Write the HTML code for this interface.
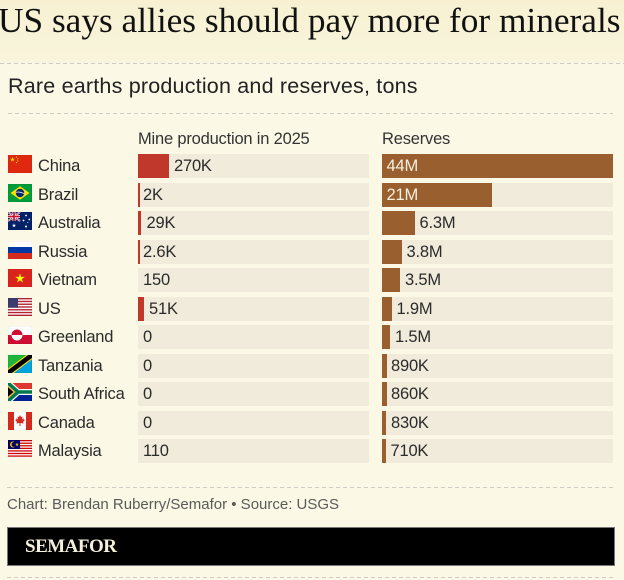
<!DOCTYPE html>
<html>
<head>
<meta charset="utf-8">
<style>
  html, body { margin:0; padding:0; }
  body { width:624px; height:580px; position:relative; overflow:hidden; background:#fbf9e6; font-family:"Liberation Sans", Arial, sans-serif; }
  .abs { position:absolute; white-space:nowrap; }
  .titlebg { position:absolute; left:0; top:0; width:624px; height:63px; background:linear-gradient(#f7f1d2,#f9f5dc); }
  .title { left:-2px; top:1px; font-family:"Liberation Serif", "Times New Roman", serif; font-size:35.3px; line-height:40px; color:#111; }
  .sub { left:8px; top:74px; font-size:21.5px; line-height:24px; color:#222; letter-spacing:0.2px; }
  .hdr { top:129px; font-size:16.5px; line-height:20px; color:#333; letter-spacing:-0.2px; }
  .row { position:absolute; left:0; width:624px; height:24px; }
  .flag { position:absolute; left:8px; top:1px; width:24px; height:18px; }
  .name { position:absolute; left:38px; top:0; font-size:16.5px; line-height:24px; color:#2b2b2b; letter-spacing:-0.2px; white-space:nowrap; }
  .bg1 { position:absolute; left:138px; top:0; width:231px; height:24px; background:#f0ebdb; }
  .bg2 { position:absolute; left:382px; top:0; width:231px; height:24px; background:#f0ebdb; }
  .pb { position:absolute; left:138px; top:0; height:24px; background:#c0382b; }
  .rb { position:absolute; left:382px; top:0; height:24px; background:#9a5f2f; }
  .val { position:absolute; top:0; font-size:16.5px; line-height:24px; color:#2b2b2b; letter-spacing:-0.2px; white-space:nowrap; }
  .in { color:#f6efdf; }
  .credit { left:7px; top:496px; font-size:15px; line-height:18px; color:#5a5a58; }
  .box { position:absolute; left:7px; top:527px; width:606px; height:37px; background:#000; border:1px solid #777; }
  .logo { left:25px; top:536px; font-family:"Liberation Serif", "Times New Roman", serif; font-weight:bold; font-size:19px; line-height:22px; color:#f5f0dc; letter-spacing:-0.5px; }
  svg.lines { position:absolute; left:0; top:0; }
</style>
</head>
<body>
<div class="titlebg"></div>
<div class="abs title">US says allies should pay more for minerals</div>

<svg class="lines" width="624" height="580">
  <g stroke="#cdcdc4" stroke-width="1" stroke-dasharray="4 3">
    <line x1="0" y1="63.5" x2="624" y2="63.5"/>
    <line x1="8" y1="113.5" x2="613" y2="113.5"/>
    <line x1="7" y1="487.5" x2="614" y2="487.5"/>
    <line x1="7" y1="577.5" x2="614" y2="577.5"/>
  </g>
</svg>

<div class="abs sub">Rare earths production and reserves, tons</div>
<div class="abs hdr" style="left:138px;">Mine production in 2025</div>
<div class="abs hdr" style="left:382px;">Reserves</div>

<!-- China -->
<div class="row" style="top:154px;">
  <svg class="flag" viewBox="0 0 24 18"><rect width="24" height="18" fill="#de2910"/>
    <polygon fill="#ffde00" transform="translate(4.5,4.5) scale(2.6)" points="0,-1 0.2245,-0.309 0.951,-0.309 0.363,0.118 0.588,0.809 0,0.382 -0.588,0.809 -0.363,0.118 -0.951,-0.309 -0.2245,-0.309"/>
    <circle cx="8.5" cy="2" r="0.6" fill="#ffde00"/><circle cx="9.8" cy="3.8" r="0.6" fill="#ffde00"/><circle cx="9.8" cy="6" r="0.6" fill="#ffde00"/><circle cx="8.5" cy="7.6" r="0.6" fill="#ffde00"/>
    <rect width="24" height="18" fill="none" stroke="rgba(0,0,0,0.12)" stroke-width="0.6"/></svg>
  <div class="name">China</div>
  <div class="bg1"></div><div class="pb" style="width:31px;"></div><div class="val" style="left:174px;">270K</div>
  <div class="bg2"></div><div class="rb" style="width:231px;"></div><div class="val in" style="left:386.5px;">44M</div>
</div>

<!-- Brazil -->
<div class="row" style="top:183px;">
  <svg class="flag" viewBox="0 0 24 18"><rect width="24" height="18" fill="#009c3b"/>
    <polygon points="2.5,9 12,2.3 21.5,9 12,15.7" fill="#ffdf00"/>
    <circle cx="12" cy="9" r="4.2" fill="#002776"/>
    <path d="M8,8.3 Q12,7.3 16,9.6" stroke="#fff" stroke-width="0.7" fill="none"/>
    <rect width="24" height="18" fill="none" stroke="rgba(0,0,0,0.12)" stroke-width="0.6"/></svg>
  <div class="name">Brazil</div>
  <div class="bg1"></div><div class="pb" style="width:1.6px;"></div><div class="val" style="left:143px;">2K</div>
  <div class="bg2"></div><div class="rb" style="width:110px;"></div><div class="val in" style="left:386.5px;">21M</div>
</div>

<!-- Australia -->
<div class="row" style="top:211px;">
  <svg class="flag" viewBox="0 0 24 18"><rect width="24" height="18" fill="#012169"/>
    <g>
      <path d="M0,0 L12,9 M12,0 L0,9" stroke="#fff" stroke-width="1.8"/>
      <path d="M0,0 L12,9 M12,0 L0,9" stroke="#c8102e" stroke-width="0.6"/>
      <path d="M6,0 V9 M0,4.5 H12" stroke="#fff" stroke-width="3"/>
      <path d="M6,0 V9 M0,4.5 H12" stroke="#c8102e" stroke-width="1.7"/>
    </g>
    <polygon fill="#fff" transform="translate(6,13.5) scale(2.2)" points="0,-1 0.2245,-0.309 0.951,-0.309 0.363,0.118 0.588,0.809 0,0.382 -0.588,0.809 -0.363,0.118 -0.951,-0.309 -0.2245,-0.309"/>
    <circle cx="18" cy="3.5" r="0.9" fill="#fff"/><circle cx="21.3" cy="7.5" r="0.9" fill="#fff"/><circle cx="15.5" cy="8.5" r="0.9" fill="#fff"/><circle cx="18" cy="14.5" r="1" fill="#fff"/><circle cx="19.8" cy="10.5" r="0.5" fill="#fff"/>
    <rect width="24" height="18" fill="none" stroke="rgba(0,0,0,0.12)" stroke-width="0.6"/></svg>
  <div class="name">Australia</div>
  <div class="bg1"></div><div class="pb" style="width:3.3px;"></div><div class="val" style="left:146.5px;">29K</div>
  <div class="bg2"></div><div class="rb" style="width:33px;"></div><div class="val" style="left:419.5px;">6.3M</div>
</div>

<!-- Russia -->
<div class="row" style="top:240px;">
  <svg class="flag" viewBox="0 0 24 18"><rect width="24" height="6" fill="#fff"/><rect y="6" width="24" height="6" fill="#0039a6"/><rect y="12" width="24" height="6" fill="#d52b1e"/>
    <rect width="24" height="18" fill="none" stroke="rgba(0,0,0,0.12)" stroke-width="0.6"/></svg>
  <div class="name">Russia</div>
  <div class="bg1"></div><div class="pb" style="width:1.6px;"></div><div class="val" style="left:143px;">2.6K</div>
  <div class="bg2"></div><div class="rb" style="width:20px;"></div><div class="val" style="left:406.5px;">3.8M</div>
</div>

<!-- Vietnam -->
<div class="row" style="top:268px;">
  <svg class="flag" viewBox="0 0 24 18"><rect width="24" height="18" fill="#da251d"/>
    <polygon fill="#ffff00" transform="translate(12,9.4) scale(5)" points="0,-1 0.2245,-0.309 0.951,-0.309 0.363,0.118 0.588,0.809 0,0.382 -0.588,0.809 -0.363,0.118 -0.951,-0.309 -0.2245,-0.309"/>
    <rect width="24" height="18" fill="none" stroke="rgba(0,0,0,0.12)" stroke-width="0.6"/></svg>
  <div class="name">Vietnam</div>
  <div class="bg1"></div><div class="val" style="left:143px;">150</div>
  <div class="bg2"></div><div class="rb" style="width:18.4px;"></div><div class="val" style="left:405px;">3.5M</div>
</div>

<!-- US -->
<div class="row" style="top:297px;">
  <svg class="flag" viewBox="0 0 24 18"><rect width="24" height="18" fill="#fff"/>
    <g fill="#b22234">
      <rect y="0" width="24" height="1.385"/><rect y="2.77" width="24" height="1.385"/><rect y="5.54" width="24" height="1.385"/><rect y="8.31" width="24" height="1.385"/><rect y="11.08" width="24" height="1.385"/><rect y="13.85" width="24" height="1.385"/><rect y="16.62" width="24" height="1.385"/>
    </g>
    <rect width="10" height="9.7" fill="#3c3b6e"/>
    <rect width="24" height="18" fill="none" stroke="rgba(0,0,0,0.12)" stroke-width="0.6"/></svg>
  <div class="name">US</div>
  <div class="bg1"></div><div class="pb" style="width:6px;"></div><div class="val" style="left:149px;">51K</div>
  <div class="bg2"></div><div class="rb" style="width:10px;"></div><div class="val" style="left:396.5px;">1.9M</div>
</div>

<!-- Greenland -->
<div class="row" style="top:325px;">
  <svg class="flag" viewBox="0 0 24 18"><rect width="24" height="9" fill="#fff"/><rect y="9" width="24" height="9" fill="#d00c33"/>
    <path d="M3.5,9 A5.5,5.5 0 0 1 14.5,9 Z" fill="#d00c33"/>
    <path d="M3.5,9 A5.5,5.5 0 0 0 14.5,9 Z" fill="#fff"/>
    <rect width="24" height="18" fill="none" stroke="rgba(0,0,0,0.12)" stroke-width="0.6"/></svg>
  <div class="name">Greenland</div>
  <div class="bg1"></div><div class="val" style="left:143px;">0</div>
  <div class="bg2"></div><div class="rb" style="width:7.9px;"></div><div class="val" style="left:395px;">1.5M</div>
</div>

<!-- Tanzania -->
<div class="row" style="top:354px;">
  <svg class="flag" viewBox="0 0 24 18"><rect width="24" height="18" fill="#1eb53a"/>
    <polygon points="24,0 24,18 0,18" fill="#00a3dd"/>
    <line x1="0" y1="18" x2="24" y2="0" stroke="#fcd116" stroke-width="7"/>
    <line x1="0" y1="18" x2="24" y2="0" stroke="#000" stroke-width="4.6"/>
    <rect width="24" height="18" fill="none" stroke="rgba(0,0,0,0.12)" stroke-width="0.6"/></svg>
  <div class="name">Tanzania</div>
  <div class="bg1"></div><div class="val" style="left:143px;">0</div>
  <div class="bg2"></div><div class="rb" style="width:4.7px;"></div><div class="val" style="left:391px;">890K</div>
</div>

<!-- South Africa -->
<div class="row" style="top:382px;">
  <svg class="flag" viewBox="0 0 24 18"><rect width="24" height="9" fill="#de3831"/><rect y="9" width="24" height="9" fill="#002395"/>
    <path d="M0,0 L10,9 L24,9 M0,18 L10,9" stroke="#fff" stroke-width="6" fill="none"/>
    <path d="M0,0 L10,9 L24,9 M0,18 L10,9" stroke="#007a4d" stroke-width="3.6" fill="none"/>
    <polygon points="0,2.8 7.2,9 0,15.2" fill="#ffb612"/>
    <polygon points="0,4.3 5.4,9 0,13.7" fill="#000"/>
    <rect width="24" height="18" fill="none" stroke="rgba(0,0,0,0.12)" stroke-width="0.6"/></svg>
  <div class="name">South Africa</div>
  <div class="bg1"></div><div class="val" style="left:143px;">0</div>
  <div class="bg2"></div><div class="rb" style="width:4.5px;"></div><div class="val" style="left:391px;">860K</div>
</div>

<!-- Canada -->
<div class="row" style="top:411px;">
  <svg class="flag" viewBox="0 0 24 18"><rect width="24" height="18" fill="#fff"/>
    <rect width="6" height="18" fill="#d52b1e"/><rect x="18" width="6" height="18" fill="#d52b1e"/>
    <polygon fill="#d52b1e" points="12,3 13,5 14.5,4.5 14,7.5 16,6 15.5,7.5 17,8 15,10 15.5,11.5 12.5,11 12.5,14 11.5,14 11.5,11 8.5,11.5 9,10 7,8 8.5,7.5 8,6 10,7.5 9.5,4.5 11,5"/>
    <rect width="24" height="18" fill="none" stroke="rgba(0,0,0,0.12)" stroke-width="0.6"/></svg>
  <div class="name">Canada</div>
  <div class="bg1"></div><div class="val" style="left:143px;">0</div>
  <div class="bg2"></div><div class="rb" style="width:4.4px;"></div><div class="val" style="left:391px;">830K</div>
</div>

<!-- Malaysia -->
<div class="row" style="top:439px;">
  <svg class="flag" viewBox="0 0 24 18"><rect width="24" height="18" fill="#fff"/>
    <g fill="#cc0001">
      <rect y="0" width="24" height="1.286"/><rect y="2.571" width="24" height="1.286"/><rect y="5.143" width="24" height="1.286"/><rect y="7.714" width="24" height="1.286"/><rect y="10.286" width="24" height="1.286"/><rect y="12.857" width="24" height="1.286"/><rect y="15.429" width="24" height="1.286"/>
    </g>
    <rect width="12" height="9" fill="#010066"/>
    <circle cx="5" cy="4.5" r="3" fill="#fc0"/><circle cx="6" cy="4.5" r="2.5" fill="#010066"/>
    <polygon fill="#fc0" transform="translate(9,4.5) scale(1.9)" points="0,-1 0.2245,-0.309 0.951,-0.309 0.363,0.118 0.588,0.809 0,0.382 -0.588,0.809 -0.363,0.118 -0.951,-0.309 -0.2245,-0.309"/>
    <rect width="24" height="18" fill="none" stroke="rgba(0,0,0,0.12)" stroke-width="0.6"/></svg>
  <div class="name">Malaysia</div>
  <div class="bg1"></div><div class="val" style="left:143px;">110</div>
  <div class="bg2"></div><div class="rb" style="width:3.7px;"></div><div class="val" style="left:390.5px;">710K</div>
</div>

<div class="abs credit">Chart: Brendan Ruberry/Semafor • Source: USGS</div>
<div class="box"></div>
<div class="abs logo">SEMAFOR</div>
</body>
</html>
